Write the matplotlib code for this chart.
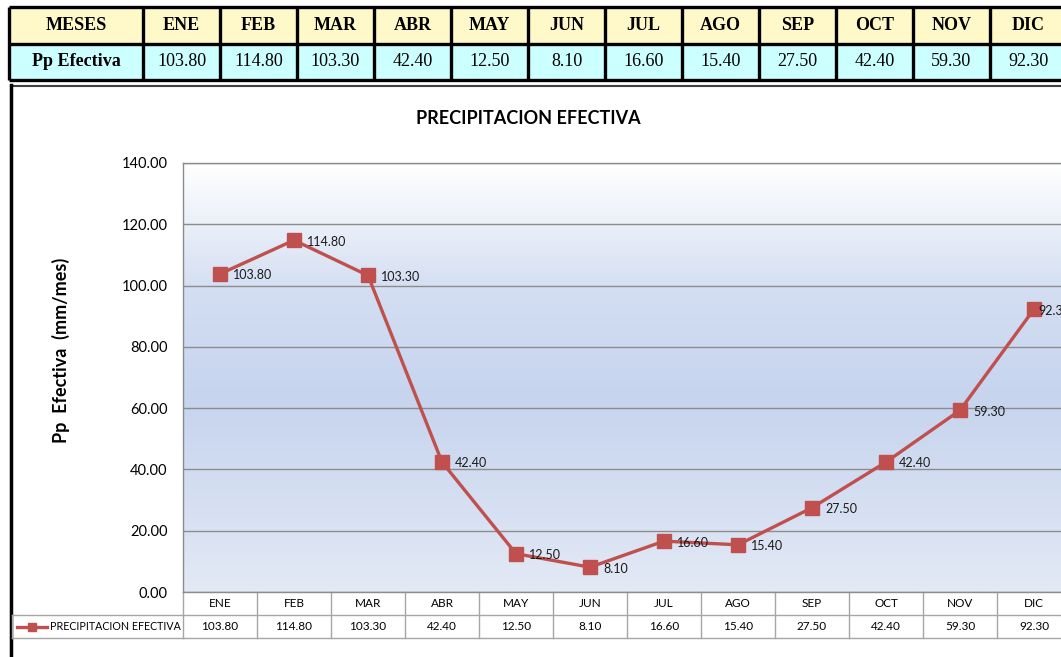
import matplotlib.pyplot as plt
import matplotlib.transforms as mtransforms
from matplotlib.colors import LinearSegmentedColormap
from matplotlib.patches import Rectangle
import numpy as np

meses = ['ENE', 'FEB', 'MAR', 'ABR', 'MAY', 'JUN', 'JUL', 'AGO', 'SEP', 'OCT', 'NOV', 'DIC']
pp_efectiva = [103.80, 114.80, 103.30, 42.40, 12.50, 8.10, 16.60, 15.40, 27.50, 42.40, 59.30, 92.30]
serie = 'PRECIPITACION EFECTIVA'
y_ticks = [0, 20, 40, 60, 80, 100, 120, 140]

W, H = 1061, 657
ROJO = '#C0504D'
GRIS = '#8C8C8C'
plt.rcParams['font.family'] = ['Lato', 'DejaVu Sans']

fig = plt.figure(figsize=(W / 100, H / 100), dpi=100)

# capa de fondo en pixeles (tabla superior y marco del grafico)
bg = fig.add_axes([0, 0, 1, 1])
bg.set_xlim(0, W)
bg.set_ylim(H, 0)
bg.axis('off')

# tabla superior
bordes = [9] + [143 + 77 * k for k in range(13)]
fila_y = [7, 44, 80]
bg.add_patch(Rectangle((9, 7), 1100, 37, facecolor='#FFF8C8', edgecolor='none'))
bg.add_patch(Rectangle((9, 44), 1100, 36, facecolor='#CCFFFF', edgecolor='none'))
for yy in fila_y:
    bg.plot([9, W], [yy, yy], color='black', lw=2.4, solid_capstyle='butt')
for xx in bordes:
    bg.plot([xx, xx], [7, 80], color='black', lw=2.4, solid_capstyle='butt')
serif = ['Liberation Serif', 'DejaVu Serif']
bg.text((bordes[0] + bordes[1]) / 2, 26, 'MESES', family=serif, weight='bold',
        fontsize=13, ha='center', va='center')
bg.text((bordes[0] + bordes[1]) / 2, 62, 'Pp Efectiva', family=serif, weight='bold',
        fontsize=13, ha='center', va='center')
for k, (m, v) in enumerate(zip(meses, pp_efectiva)):
    xc = (bordes[k + 1] + bordes[k + 2]) / 2
    bg.text(xc, 26, m, family=serif, weight='bold', fontsize=13, ha='center', va='center')
    bg.text(xc, 62, f'{v:.2f}', family=serif, fontsize=13, ha='center', va='center')

# marco del grafico
bg.add_patch(Rectangle((11, 86), 1100, 700, facecolor='white', edgecolor='#404040', lw=1.5))
bg.plot([11, 11], [85, H], color='black', lw=2.5)

bg.text(528, 118, serie, fontsize=13, weight='bold', ha='center', va='center')
bg.text(61, 350, 'Pp  Efectiva  (mm/mes)', fontsize=13, weight='bold', rotation=90,
        ha='center', va='center')

# area de trazado
x0, x1, ytop, ybot = 183, 1071, 163, 592
ax = fig.add_axes([x0 / W, 1 - ybot / H, (x1 - x0) / W, (ybot - ytop) / H])
x = np.arange(len(meses))

grad_cmap = LinearSegmentedColormap.from_list(
    'fondo', [(0.0, '#E3E9F5'), (0.45, '#C6D4EE'), (0.7, '#D3DEF2'), (1.0, '#FFFFFF')])
grad = np.linspace(0, 1, 256).reshape(-1, 1)
ax.imshow(grad, extent=(-0.5, 11.5, 0, 140), origin='lower', aspect='auto',
          cmap=grad_cmap, zorder=0)

ax.set_xlim(-0.5, 11.5)
ax.set_ylim(0, 140)
ax.set_yticks(y_ticks)
ax.set_yticklabels([f'{t:.2f}' for t in y_ticks], fontsize=10.5)
ax.set_xticks(x)
ax.set_xticklabels([])
ax.tick_params(axis='both', length=0)
ax.tick_params(axis='y', pad=11)
ax.yaxis.grid(True, color=GRIS, lw=1)
ax.set_axisbelow(True)
for s in ax.spines.values():
    s.set_color(GRIS)
    s.set_linewidth(1)

ax.plot(x, pp_efectiva, color=ROJO, lw=2.4, marker='s', ms=10,
        mfc=ROJO, mec=ROJO, zorder=3)
for xi, v in zip(x, pp_efectiva):
    dx = 3 if xi == x[-1] else 9.5  # la ultima etiqueta queda pegada al marcador
    ax.annotate(f'{v:.2f}', (xi, v), xytext=(dx, -1), textcoords='offset points',
                ha='left', va='center', fontsize=9, color='#1A1A1A', zorder=4)

# tabla de datos bajo el eje
h_ax = ybot - ytop
trans = mtransforms.blended_transform_factory(ax.transData, ax.transAxes)
r1, r2 = -23 / h_ax, -46 / h_ax
for k in range(len(meses) + 1):
    ax.plot([k - 0.5, k - 0.5], [0, r2], transform=trans, color='#A6A6A6', lw=1, clip_on=False)
for yy in (r1, r2):
    ax.plot([-0.5, 11.5], [yy, yy], transform=trans, color='#A6A6A6', lw=1, clip_on=False)
for xi, m, v in zip(x, meses, pp_efectiva):
    ax.text(xi, r1 / 2, m, transform=trans, ha='center', va='center', fontsize=8.5)
    ax.text(xi, (r1 + r2) / 2, f'{v:.2f}', transform=trans, ha='center', va='center', fontsize=8.5)

# columna de leyenda
for yy in (615, 638):
    bg.plot([12, x0], [yy, yy], color='#A6A6A6', lw=1)
bg.plot([12, 12], [615, 638], color='#A6A6A6', lw=1)
bg.plot([17, 47], [626.5, 626.5], color=ROJO, lw=2.4)
bg.plot([32], [626.5], marker='s', ms=6, color=ROJO)
bg.text(50, 627, serie, fontsize=7.7, ha='left', va='center')

fig.savefig('out.png', dpi=100)
